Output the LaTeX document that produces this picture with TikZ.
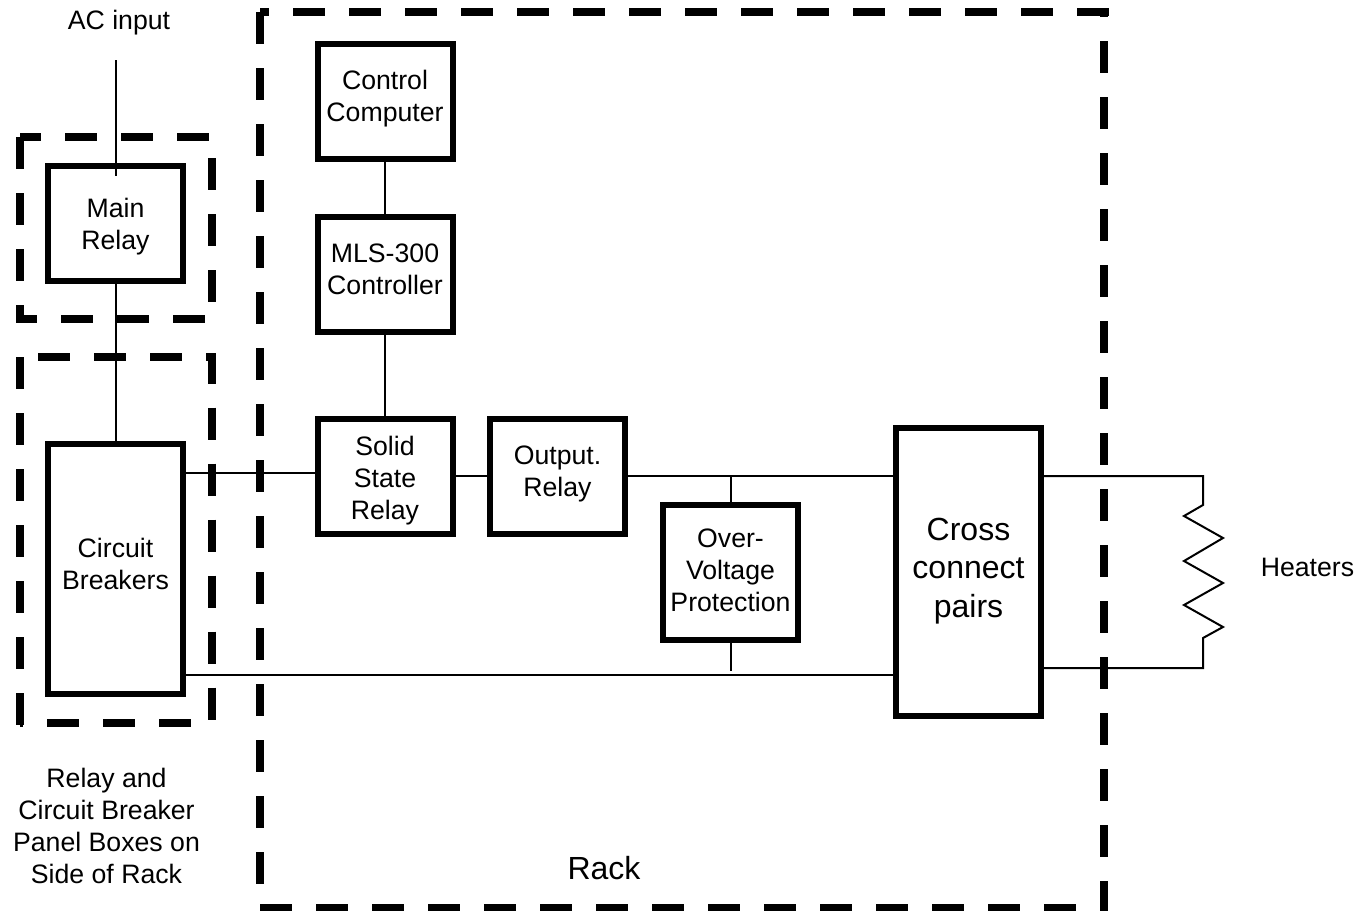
\documentclass[tikz,border=0pt]{standalone}
\usepackage{fontspec}
\setmainfont{Liberation Sans}
% last baseline placed #1 px below the node centre
\newcommand{\tl}[2]{\raisebox{\dimexpr -#1pt*3/4\relax}[0pt][0pt]{\begin{tabular}[b]{@{}c@{}}#2\end{tabular}}}
\tikzset{
  bx/.style={draw=black,line width=4.5pt,inner sep=0pt,minimum width=101.25pt,minimum height=86.25pt,font=\fontsize{20}{24}\selectfont},
  tallbx/.style={bx,minimum height=187.5pt},
  squarebx/.style={bx,minimum height=101.25pt},
  crossbx/.style={bx,minimum width=108.75pt,minimum height=216pt,font=\fontsize{24}{29}\selectfont},
  wire/.style={draw=black,line width=1.5pt,line join=miter},
  panel/.style={draw=black,line width=6pt,dash pattern=on 24pt off 18pt},
  lbl/.style={inner sep=0pt,font=\fontsize{20}{24}\selectfont},
  biglbl/.style={inner sep=0pt,font=\fontsize{24}{29}\selectfont}
}
\begin{document}
\begin{tikzpicture}[x=.75pt,y=-.75pt]
\useasboundingbox (0,0) rectangle (1372,911);
\fill[white] (0,0) rectangle (1372,911);
% upper panel box
\draw[panel,dash phase=8.25pt]  (20,137) -- (212,137);
\draw[panel,dash phase=26.25pt] (212,137) -- (212,319);
\draw[panel,dash phase=11.25pt] (20,319) -- (212,319);
\draw[panel] (20,137) -- (20,323);
% lower panel box
\draw[panel,dash phase=28.5pt]  (20,357) -- (216,357);
\draw[panel,dash phase=1.1pt]   (212,353) -- (212,723);
\draw[panel,dash phase=21.75pt] (20,723) -- (212,723);
\draw[panel] (20,357) -- (20,727);
% rack
\draw[panel,dash phase=17.25pt] (260,12) -- (1109,12);
\draw[panel] (260,12) -- (260,905);
\draw[panel,dash phase=20.25pt] (1104,12) -- (1104,912);
\draw[panel] (260,908) -- (1108,908);
% boxes
\node[bx] (main) at (115.5,223.5) {\tl{25.5}{Main\\Relay}};
\node[tallbx] (cb) at (115.5,569) {\tl{20.5}{Circuit\\Breakers}};
\node[bx] (cc) at (385,101.5) {\tl{19.5}{Control\\Computer}};
\node[bx] (mls) at (385,274.5) {\tl{20}{MLS-300\\Controller}};
\node[bx] (ssr) at (385,476.5) {\tl{43}{Solid\\State\\Relay}};
\node[bx] (out) at (557.5,476.5) {\tl{19.5}{Output.\\Relay}};
\node[squarebx] (ovp) at (730.5,572.5) {\tl{39}{Over-\\Voltage\\Protection}};
\node[crossbx] (cross) at (968.5,572) {\tl{45.5}{Cross\\connect\\pairs}};
% labels
\node[lbl] (aclbl) at (119,29) {\tl{0}{AC input}};
\node[lbl] (heatlbl) at (1307.5,576.5) {\tl{0}{Heaters}};
\node[lbl] (panellbl) at (106.5,883) {\tl{0}{Relay and\\Circuit Breaker\\Panel Boxes on\\Side of Rack}};
\node[biglbl] (racklbl) at (604,879) {\tl{0}{Rack}};
% helper coordinates
\coordinate (actop) at (116,60);
\coordinate (acend) at (116,176);
\coordinate (y473) at (0,473);
\coordinate (y476) at (0,476);
\coordinate (y674) at (0,674.5);
\coordinate (y668) at (0,668);
\coordinate (tap) at (731,476);
\coordinate (stub) at (731,671);
\coordinate (tapb) at (731,640);
\coordinate (rtop) at (1203,476);
\coordinate (rbot) at (1203,668);
% connectors
\draw[wire] (actop) -- (acend);
\draw[wire] (main) -- (cb);
\draw[wire] (cc) -- (mls);
\draw[wire] (mls) -- (ssr);
\draw[wire] (cb.east |- y473) -- (ssr.west |- y473);
\draw[wire] (ssr.east |- y476) -- (out.west |- y476);
\draw[wire] (out.east |- y476) -- (cross.west |- y476);
\draw[wire] (tap) -- (tap |- ovp.north);
\draw[wire] (tapb |- ovp.south) -- (stub);
\draw[wire] (cb.east |- y674) -- (cross.west |- y674);
\draw[wire] (cross.east |- y476) -- (rtop)
  -- (1203,505) -- (1184,516) -- (1223,538) -- (1184,561) -- (1223,583)
  -- (1184,605) -- (1223,627) -- (1203,638) -- (rbot) -- (cross.east |- y668);
\end{tikzpicture}
\end{document}
